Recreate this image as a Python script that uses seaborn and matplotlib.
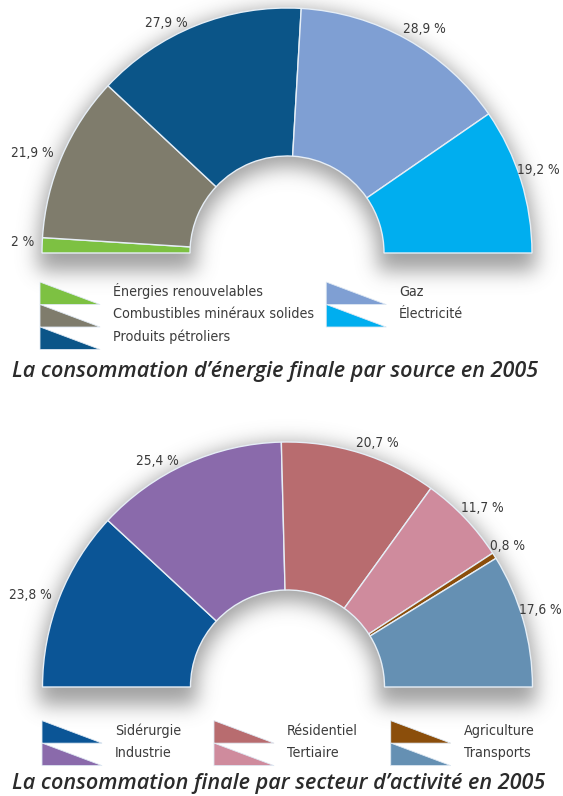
import numpy as np
import matplotlib
matplotlib.use("Agg")
import matplotlib.pyplot as plt
from matplotlib.patches import Patch, Polygon
from matplotlib.legend_handler import HandlerPatch
import seaborn as sns

# data
source_labels = ["Énergies renouvelables", "Combustibles minéraux solides",
                 "Produits pétroliers", "Gaz", "Électricité"]
source_values = [2.0, 21.9, 27.9, 28.9, 19.2]
source_colors = ["#7dc142", "#7f7c6c", "#0b5588", "#7f9fd3", "#00aeef"]
source_title = "La consommation d’énergie finale par source en 2005"

sector_labels = ["Sidérurgie", "Industrie", "Résidentiel", "Tertiaire",
                 "Agriculture", "Transports"]
sector_values = [23.8, 25.4, 20.7, 11.7, 0.8, 17.6]
sector_colors = ["#0b5596", "#8a6aab", "#b86c6f", "#cf8b9d", "#8b4e0b", "#6590b3"]
sector_title = "La consommation finale par secteur d’activité en 2005"

sns.set_theme(style="white")
plt.rcParams["font.family"] = ["DejaVu Sans"]
plt.rcParams["font.stretch"] = "condensed"

W, H = 563, 796
fig = plt.figure(figsize=(W / 100, H / 100), dpi=100)
ax = fig.add_axes([0, 0, 1, 1])

R_OUT, R_IN = 245, 97
top_center = (287, H - 253)
bot_center = (287.5, H - 687)


def fmt_pct(v):
    return f"{v:g}".replace(".", ",") + " %"


def blur(a, sigma):
    k = np.arange(-3 * sigma, 3 * sigma + 1)
    g = np.exp(-k ** 2 / (2.0 * sigma ** 2))
    g /= g.sum()
    a = np.apply_along_axis(lambda m: np.convolve(m, g, mode="same"), 0, a)
    a = np.apply_along_axis(lambda m: np.convolve(m, g, mode="same"), 1, a)
    return a


# soft drop shadow under both half rings
yy, xx = np.mgrid[0:H, 0:W] + 0.5
shadow = np.zeros((H, W))
for cx, cy in (top_center, bot_center):
    d = np.hypot(xx - cx, yy - (cy - 5))
    shadow += ((d <= R_OUT + 4) & (d >= R_IN - 6) & (yy >= cy - 18)).astype(float)
shadow = blur(shadow, 10)
rgba = np.zeros((H, W, 4))
rgba[..., :3] = 0.40
rgba[..., 3] = np.clip(shadow, 0, 1) * 0.62
ax.imshow(rgba, origin="lower", extent=(0, W, 0, H), zorder=0, interpolation="bilinear")


def half_donut(values, colors, center):
    total = sum(values)
    wedges, _ = ax.pie(values + [total], colors=colors + ["none"], radius=R_OUT,
                       center=center, startangle=180, counterclock=False,
                       wedgeprops=dict(width=R_OUT - R_IN, edgecolor="#e6eef6",
                                       linewidth=1.0))
    wedges[-1].set_visible(False)
    for w in wedges:
        w.set_zorder(2)
    cum = np.cumsum([0] + values[:-1])
    for v, c0 in zip(values, cum):
        theta = np.radians(180 - 180 * (c0 + v / 2) / total)
        left = np.cos(theta) < 0
        x = center[0] + R_OUT * np.cos(theta)
        y = center[1] + R_OUT * np.sin(theta)
        ax.annotate(fmt_pct(v), (x, y), xytext=(-8 if left else -4, 3 if left else 10),
                    textcoords="offset pixels", ha="right" if left else "left",
                    va="center", fontsize=9.8, color="#3a3a3a", zorder=3)


def triangle(legend, orig_handle, xdescent, ydescent, width, height, fontsize):
    x0, y0 = -xdescent, -ydescent
    return Polygon([[x0, y0 - 4], [x0, y0 + height + 1], [x0 + width, y0 - 4]], closed=True)


def add_legend(labels, colors, anchor, ncol, colspace):
    handles = [Patch(facecolor=c, edgecolor="#dfe9f3", linewidth=0.6) for c in colors]
    leg = ax.legend(handles, labels, loc="upper left", bbox_to_anchor=anchor,
                    bbox_transform=ax.transData, ncol=ncol, frameon=False,
                    fontsize=10.3, handlelength=4.2, handleheight=1.3,
                    handletextpad=0.9, labelspacing=0.48, borderpad=0,
                    borderaxespad=0, columnspacing=colspace,
                    handler_map={Patch: HandlerPatch(patch_func=triangle)})
    for t in leg.get_texts():
        t.set_color("#3c3c3c")
    return leg


half_donut(source_values, source_colors, top_center)
half_donut(sector_values, sector_colors, bot_center)

leg1 = add_legend(source_labels, source_colors, (40, H - 283), 2, 0.85)
ax.add_artist(leg1)
add_legend(sector_labels, sector_colors, (42, H - 722), 3, 2.3)

title_kw = dict(fontsize=15.6, style="italic", weight="semibold", color="#2b2b2b",
                family=["Open Sans", "DejaVu Sans"], stretch="normal",
                ha="left", va="center")
ax.text(12, H - 372, source_title, **title_kw)
ax.text(12, H - 784, sector_title, **title_kw)

ax.set_xlim(0, W)
ax.set_ylim(0, H)
ax.set_aspect("equal")
ax.axis("off")

fig.savefig("out.png", dpi=100, facecolor="white")
